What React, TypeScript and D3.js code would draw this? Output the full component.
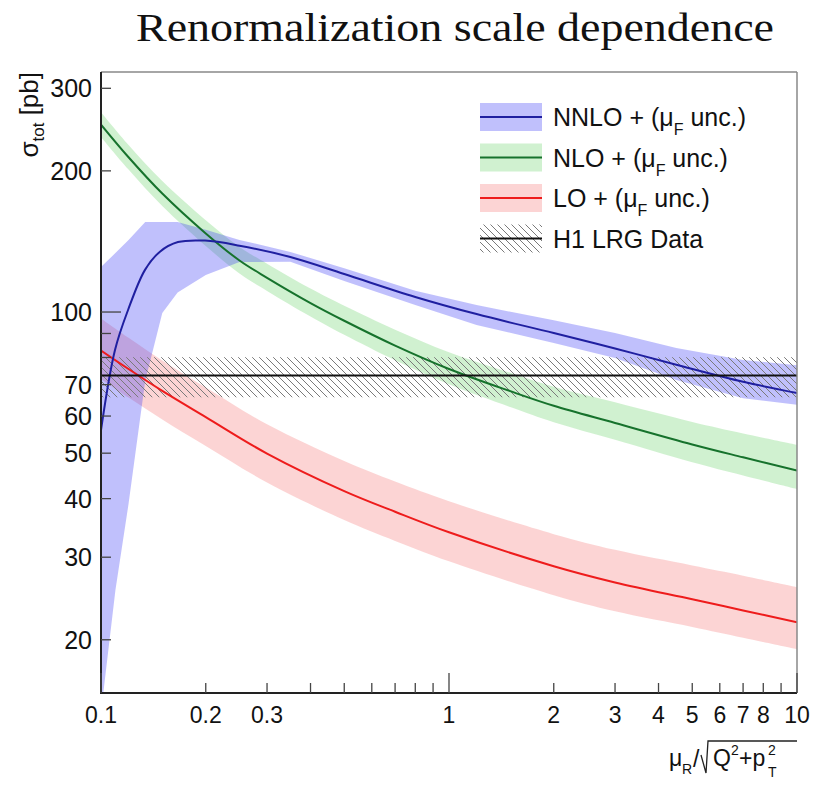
import React from 'react';
import * as d3 from 'd3';

// ---- Data ----
const nnloX = [0.1, 0.1097, 0.1196, 0.1338, 0.1477, 0.1664, 0.199, 0.25, 0.35, 0.5, 0.8, 1.2, 2, 3, 4.5, 7, 10];
const nnloC = [56, 83, 101, 123, 134.5, 141, 142, 138.5, 131, 120.5, 107.7, 99, 90.2, 83.6, 77.2, 71.0, 67.2];
const nnloBandX = [0.1, 0.11, 0.12, 0.134, 0.15, 0.166, 0.2, 0.25, 0.35, 0.5, 0.8, 1.2, 2, 3, 4.5, 7, 10];
const nnloLo = [14, 25.5, 39, 71.4, 99.5, 110, 120, 127.8, 128, 116.5, 103.5, 93.8, 85.9, 79.8, 71.6, 65.5, 63.4];
const nnloHi = [124.7, 133.6, 142.5, 155.6, 155.6, 155.6, 149.7, 142.5, 134.3, 124, 111, 103.5, 96, 90.2, 83.8, 79, 77];

const nloX = [0.1, 0.12, 0.15, 0.2, 0.25, 0.3, 0.4, 0.5, 0.7, 1, 1.5, 2, 3, 5, 7, 10];
const nloC = [251, 213.8, 178.9, 147.1, 128.8, 118.3, 104.5, 95.8, 84.8, 75.6, 67.8, 63.1, 58.0, 52.2, 49.0, 45.9];
const nloHi = [266.6, 227, 190.3, 157, 137.7, 126.8, 112.2, 103.1, 91.7, 82.1, 74.2, 69.3, 64.2, 58.3, 55.1, 52.1];
const nloLo = [236.3, 201.3, 168.3, 138.3, 120.8, 110.9, 97.8, 89.4, 78.9, 70.1, 62.7, 58.2, 53.4, 47.8, 44.8, 41.9];

const loX = [0.1, 0.12, 0.15, 0.2, 0.3, 0.5, 0.7, 1, 2, 3, 5, 7, 10];
const loC = [82.8, 75.6, 67.9, 59.7, 49.9, 41.5, 37.5, 33.9, 28.7, 26.5, 24.4, 23.1, 21.8];
const loHi = [96.9, 88.1, 78.8, 69.0, 57.6, 48.1, 43.5, 39.5, 33.6, 31.1, 28.8, 27.4, 25.9];
const loLo = [72.0, 65.7, 59.0, 51.8, 43.3, 36.0, 32.5, 29.4, 24.9, 23.0, 21.3, 20.2, 19.1];

const dataValue = 73.2;
const dataLo = 65.8;
const dataHi = 80.1;

const xTickValues = [0.1, 0.2, 0.3, 0.4, 0.5, 0.6, 0.7, 0.8, 0.9, 1, 2, 3, 4, 5, 6, 7, 8, 9, 10];
const xTickLabels = [0.1, 0.2, 0.3, 1, 2, 3, 4, 5, 6, 7, 8, 10];
const yTickValues = [20, 30, 40, 50, 60, 70, 80, 90, 100, 200, 300];
const yTickLabels = [20, 30, 40, 50, 60, 70, 100, 200, 300];
const yMajor = [100];
const xMajor = [0.1, 1, 10];

const legendLabels = ['NNLO', 'NLO', 'LO'];
const titleText = 'Renormalization scale dependence';

export default function App() {
  const W = 817, H = 788;
  const L = 101, R = 797, T = 72, B = 693;
  const x = d3.scaleLog().domain([0.1, 10]).range([L, R]);
  const y = d3.scaleLog().domain([15.4, 325]).range([B, T]);

  const mkLine = (xs: number[], vs: number[], curve: any) =>
    d3.line<number>().x((_, i) => x(xs[i])).y(d => y(d)).curve(curve)(vs) || '';
  const mkArea = (xs: number[], lo: number[], hi: number[], curve: any) =>
    d3.area<number>().x((_, i) => x(xs[i])).y0((_, i) => y(lo[i])).y1(d => y(d)).curve(curve)(hi) || '';

  const blueBand = 'rgba(60,60,245,0.32)';
  const greenBand = 'rgba(40,190,40,0.22)';
  const redBand = 'rgba(240,60,60,0.22)';
  const blueLine = '#1f1fa0';
  const greenLine = '#16722c';
  const redLine = '#ee1c1c';

  const sans = 'Liberation Sans, Arial, Helvetica, sans-serif';

  const legendRows = [
    { fill: blueBand, stroke: blueLine, name: legendLabels[0] },
    { fill: greenBand, stroke: greenLine, name: legendLabels[1] },
    { fill: redBand, stroke: redLine, name: legendLabels[2] },
  ];
  const legY0 = 117, legDY = 40.5;
  const smooth = d3.curveCatmullRom.alpha(0.5);

  return (
    <svg width={W} height={H} style={{ position: 'absolute', left: 0, top: 0, background: '#fff' }}>
      <defs>
        <clipPath id="plot">
          <rect x={L} y={T} width={R - L} height={B - T} />
        </clipPath>
        <pattern id="hatch" patternUnits="userSpaceOnUse" width="7" height="7">
          <path d="M0,0 L7,7 M-1,6 L1,8 M6,-1 L8,1" stroke="#7a7a7a" strokeWidth="1" />
        </pattern>
      </defs>
      <rect x={0} y={0} width={W} height={H} fill="#fff" />

      {/* title */}
      <text x={455} y={41} textAnchor="middle" fontFamily="Liberation Serif, Times New Roman, serif" fontSize={40}
        textLength={638} lengthAdjust="spacingAndGlyphs" fill="#111">{titleText}</text>

      <g clipPath="url(#plot)">
        <path d={mkArea(loX, loLo, loHi, smooth)} fill={redBand} />
        <path d={mkArea(nloX, nloLo, nloHi, smooth)} fill={greenBand} />
        <path d={mkArea(nnloBandX, nnloLo, nnloHi, d3.curveLinear)} fill={blueBand} />
        <rect x={L} y={y(dataHi)} width={R - L} height={y(dataLo) - y(dataHi)} fill="url(#hatch)" />
        <path d={mkLine(loX, loC, smooth)} fill="none" stroke={redLine} strokeWidth={2} />
        <path d={mkLine(nloX, nloC, smooth)} fill="none" stroke={greenLine} strokeWidth={2} />
        <path d={mkLine(nnloX, nnloC, smooth)} fill="none" stroke={blueLine} strokeWidth={2} />
        <line x1={L} x2={R} y1={y(dataValue)} y2={y(dataValue)} stroke="#111" strokeWidth={2} />
      </g>

      {/* frame */}
      <line x1={L} x2={R} y1={T} y2={T} stroke="#888" strokeWidth={1.5} />
      <line x1={R} x2={R} y1={T} y2={B} stroke="#888" strokeWidth={1.5} />
      <line x1={L} x2={L} y1={T} y2={B + 1} stroke="#222" strokeWidth={2} />
      <line x1={L - 1} x2={R} y1={B} y2={B} stroke="#222" strokeWidth={2} />

      {/* y ticks */}
      {yTickValues.map(v => (
        <line key={'yt' + v} x1={L} x2={L + (yMajor.includes(v) ? 20 : 10)} y1={y(v)} y2={y(v)} stroke="#444" strokeWidth={1.3} />
      ))}
      {yTickLabels.map(v => (
        <text key={'yl' + v} x={92} y={y(v)} dy="0.36em" textAnchor="end" fontFamily={sans} fontSize={25} fill="#111">{v}</text>
      ))}

      {/* x ticks */}
      {xTickValues.map(v => (
        <line key={'xt' + v} x1={x(v)} x2={x(v)} y1={B} y2={B - (xMajor.includes(v) ? 20 : 10)} stroke="#444" strokeWidth={1.3} />
      ))}
      {xTickLabels.map(v => (
        <text key={'xl' + v} x={x(v)} y={723} textAnchor="middle" fontFamily={sans} fontSize={23} fill="#111">{String(v)}</text>
      ))}

      {/* y axis title */}
      <g transform={`translate(38,${T}) rotate(-90)`}>
        <text x={0} y={0} textAnchor="end" fontFamily={sans} fontSize={26} fill="#111">
          <tspan>σ</tspan>
          <tspan fontSize={17} dy={6}>tot</tspan>
          <tspan dy={-6}> [pb]</tspan>
        </text>
      </g>

      {/* x axis title */}
      <g fontFamily={sans} fill="#111">
        <text x={669} y={766} fontSize={23}>μ</text>
        <text x={682} y={774} fontSize={14}>R</text>
        <text x={693} y={767} fontSize={23}>/</text>
        <path d="M701,755 L706,773 L708,741 L797,741" fill="none" stroke="#222" strokeWidth={1.3} />
        <text x={713} y={766} fontSize={23}>Q</text>
        <text x={731} y={755} fontSize={14}>2</text>
        <text x={739} y={766} fontSize={23}>+p</text>
        <text x={768} y={755} fontSize={14}>2</text>
        <text x={768} y={777} fontSize={14}>T</text>
      </g>

      {/* legend */}
      {legendRows.map((r, i) => {
        const cy = legY0 + i * legDY;
        return (
          <g key={r.name}>
            <rect x={480} y={cy - 14} width={62} height={28} fill={r.fill} />
            <line x1={480} x2={542} y1={cy} y2={cy} stroke={r.stroke} strokeWidth={2} />
            <text x={553} y={cy + 9} fontFamily={sans} fontSize={25} fill="#111">
              <tspan>{r.name + ' + (μ'}</tspan>
              <tspan fontSize={16} dy={9}>F</tspan>
              <tspan dy={-9}>{' unc.)'}</tspan>
            </text>
          </g>
        );
      })}
      {(() => {
        const cy = legY0 + 3 * legDY;
        return (
          <g>
            <rect x={480} y={cy - 14} width={62} height={28} fill="url(#hatch)" />
            <line x1={480} x2={542} y1={cy} y2={cy} stroke="#111" strokeWidth={2} />
            <text x={553} y={cy + 9} fontFamily={sans} fontSize={25} fill="#111">H1 LRG Data</text>
          </g>
        );
      })()}
    </svg>
  );
}
